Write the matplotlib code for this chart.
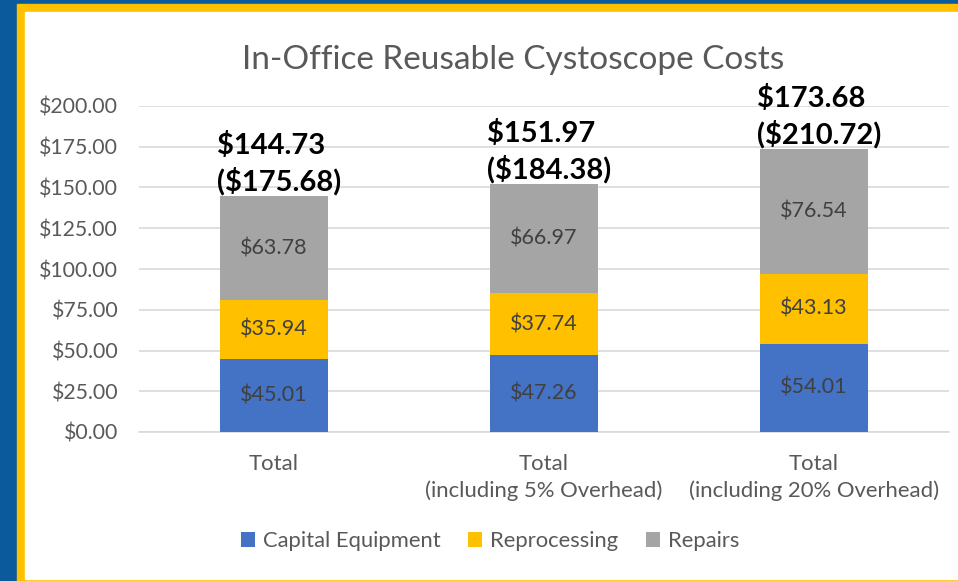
import matplotlib.pyplot as plt
from matplotlib.patches import Rectangle

plt.rcParams['font.family'] = ['Lato', 'DejaVu Sans']

categories = ['Total', 'Total\n(including 5% Overhead)', 'Total\n(including 20% Overhead)']
capital = [45.01, 47.26, 54.01]
reprocessing = [35.94, 37.74, 43.13]
repairs = [63.78, 66.97, 76.54]
totals = [144.73, 151.97, 173.68]
totals_alt = [175.68, 184.38, 210.72]
yticks = [0, 25, 50, 75, 100, 125, 150, 175, 200]

W, H = 958, 581
fig = plt.figure(figsize=(W / 100, H / 100), dpi=100)

# background frame: blue slide, yellow border, white card
fig.add_artist(Rectangle((0, 0), 1, 1, transform=fig.transFigure, color='#0B5A9C', zorder=-3))
fig.add_artist(Rectangle((17 / W, -0.01), 1, (H - 4) / H + 0.01, transform=fig.transFigure,
                         color='#FFC000', zorder=-2))
fig.add_artist(Rectangle((25 / W, 2 / H), 1, (H - 14) / H, transform=fig.transFigure,
                         color='white', zorder=-1))

ax = fig.add_axes([139 / W, (H - 432) / H, 810 / W, 326 / H])
ax.set_facecolor('none')

x = range(len(categories))
w = 0.4
b1 = ax.bar(x, capital, w, color='#4472C4', label='Capital Equipment', zorder=3)
bottom2 = capital
b2 = ax.bar(x, reprocessing, w, bottom=bottom2, color='#FFC000', label='Reprocessing', zorder=3)
bottom3 = [a + b for a, b in zip(capital, reprocessing)]
b3 = ax.bar(x, repairs, w, bottom=bottom3, color='#A5A5A5', label='Repairs', zorder=3)

for bars, vals, bots in [(b1, capital, [0, 0, 0]), (b2, reprocessing, bottom2), (b3, repairs, bottom3)]:
    for i, (v, b) in enumerate(zip(vals, bots)):
        ax.text(i, b + v / 2, f'${v:.2f}', ha='center', va='center', fontsize=15.5,
                color='#404040', zorder=4)

for i in x:
    ax.text(i - w / 2 - 0.012, totals[i] + 0.5, f'${totals[i]:.2f}\n(${totals_alt[i]:.2f})',
            ha='left', va='bottom', fontsize=21, fontweight='bold', color='black',
            linespacing=1.33, clip_on=False, zorder=5)

ax.set_xlim(-0.5, 2.5)
ax.set_ylim(0, 200)
ax.set_yticks(yticks)
ax.set_yticklabels([f'${t:.2f}' for t in yticks])
ax.set_xticks(list(x))
ax.set_xticklabels(categories, linespacing=1.35, fontsize=15.9)
ax.tick_params(axis='y', length=0, labelsize=15.3, colors='#595959', pad=15)
ax.tick_params(axis='x', length=0, colors='#595959', pad=16)
ax.grid(axis='y', color='#D9D9D9', linewidth=1.2, zorder=0)
for s in ['top', 'right', 'left']:
    ax.spines[s].set_visible(False)
ax.spines['bottom'].set_color('#D9D9D9')
ax.spines['bottom'].set_linewidth(1.2)

fig.text(513 / W, (H - 60) / H, 'In-Office Reusable Cystoscope Costs', ha='center', va='center',
         fontsize=24, color='#595959')

fig.legend(handles=[b1, b2, b3], loc='center', bbox_to_anchor=(490 / W, (H - 541) / H),
           ncol=3, frameon=False, fontsize=15.8, labelcolor='#595959', handlelength=0.65,
           handleheight=0.65, handletextpad=0.35, columnspacing=1.25)

fig.savefig('out.png', dpi=100)
